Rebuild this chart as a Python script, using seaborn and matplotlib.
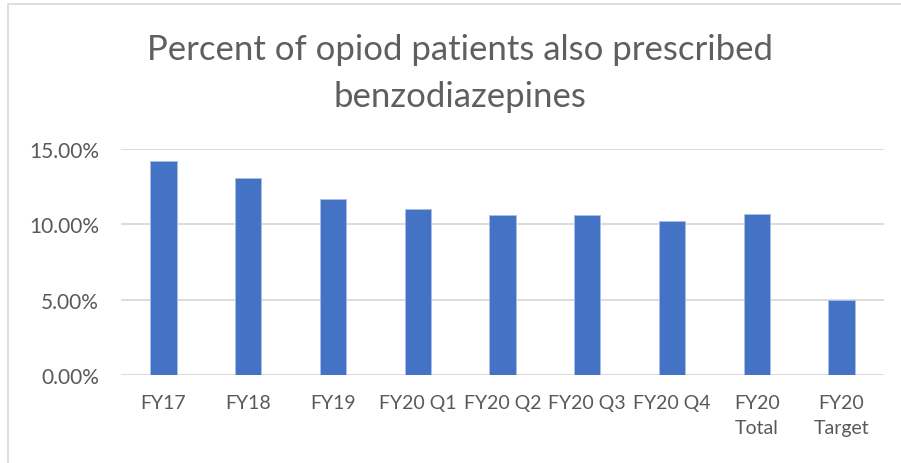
import pandas as pd
import matplotlib.pyplot as plt
import matplotlib.ticker as mtick
import seaborn as sns

# Chart data
periods = ["FY17", "FY18", "FY19", "FY20 Q1", "FY20 Q2", "FY20 Q3",
           "FY20 Q4", "FY20\nTotal", "FY20\nTarget"]
percent = [0.142, 0.131, 0.117, 0.110, 0.106, 0.106, 0.102, 0.107, 0.050]
y_ticks = [0.0, 0.05, 0.10, 0.15]

df = pd.DataFrame({"period": periods, "percent": percent})

sns.set_theme(style="white")
plt.rcParams["font.family"] = ["Lato", "DejaVu Sans"]

fig = plt.figure(figsize=(9.01, 4.64), dpi=100)
ax = fig.add_axes([121 / 901, 1 - 376 / 464, 763 / 901, 226 / 464])

sns.barplot(data=df, x="period", y="percent", color="#4472C4",
            width=0.31, saturation=1, edgecolor="#A9BEE6", linewidth=0.6,
            ax=ax, zorder=3)

ax.set_ylim(0, 0.15)
ax.set_yticks(y_ticks)
ax.yaxis.set_major_formatter(mtick.PercentFormatter(1.0, decimals=2))
ax.grid(axis="y", color="#D9D9D9", linewidth=1.3, zorder=0)
ax.set_axisbelow(True)
for s in ax.spines.values():
    s.set_visible(False)
ax.set_xlabel("")
ax.set_ylabel("")
ax.tick_params(axis="x", length=0, pad=14, labelsize=14, labelcolor="#595959")
ax.tick_params(axis="y", length=0, pad=16, labelsize=15, labelcolor="#595959")
for lbl in ax.get_xticklabels():
    lbl.set_linespacing(1.55)

# two-line title
fig.text(460 / 901, 1 - 60 / 464, "Percent of opiod patients also prescribed",
         ha="center", va="baseline", fontsize=25, color="#5f5f5f")
fig.text(460 / 901, 1 - 107 / 464, "benzodiazepines",
         ha="center", va="baseline", fontsize=25, color="#5f5f5f")

# outer chart border
fig.patches.append(plt.Rectangle((8 / 901, -0.1), 1.0, 1 - 5 / 464 + 0.1,
                                 transform=fig.transFigure, fill=False,
                                 edgecolor="#D9D9D9", linewidth=1.2))

plt.savefig("out.png", dpi=100)
